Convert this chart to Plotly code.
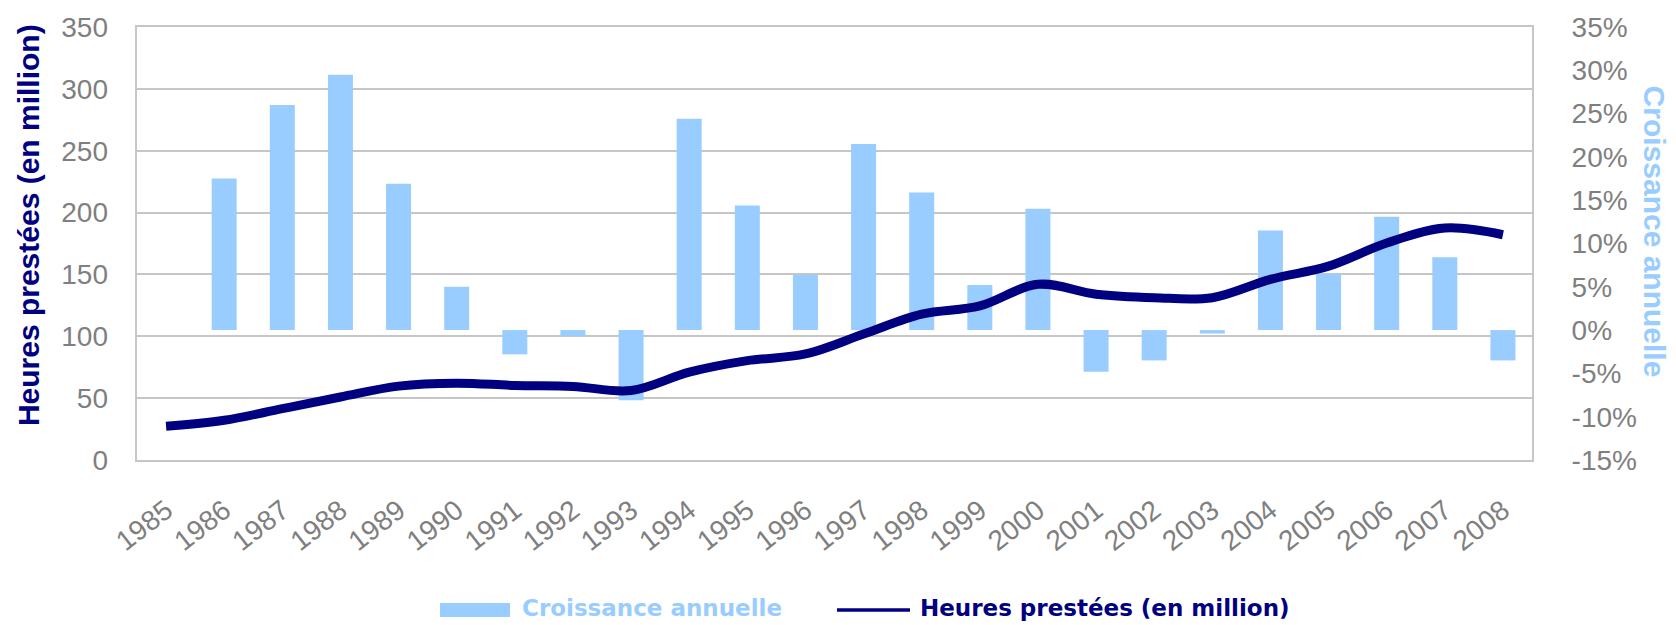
import plotly.graph_objects as go

# ---- data ----
years = [str(y) for y in range(1985, 2009)]
hours = [27.3, 32.1, 41.5, 50.9, 59.7, 62.1, 60.3, 59.5, 56.2, 71.0, 80.3, 85.7,
         101.8, 117.9, 124.5, 142.0, 134.0, 131.2, 131.2, 146.0, 156.7, 175.4, 187.5, 182.1]
growth = [None, 17.5, 26.0, 29.5, 16.9, 5.0, -2.8, -0.7, -8.1, 24.4, 14.4, 6.4,
          21.5, 15.9, 5.2, 14.0, -4.8, -3.5, -0.4, 11.5, 6.5, 13.1, 8.4, -3.5]
hours_ticks = list(range(0, 351, 50))
growth_ticks = list(range(-15, 36, 5))

name_growth = "Croissance annuelle"
name_hours = "Heures prestées (en million)"

BAR = "#99CCFF"
NAVY = "#000080"
GRID = "#C6C6C6"
TICK = "#7F7F7F"

W, H = 1676, 625
L, R, T, B = 137, 144, 24, 165
pw, ph = W - L - R, H - T - B


def px(x):
    return (x - L) / pw


def py(y):
    return (H - B - y) / ph


fig = go.Figure()
fig.add_trace(go.Bar(x=years, y=growth, name=name_growth, marker_color=BAR,
                     marker_line_width=0, width=0.43, yaxis="y", showlegend=False))
fig.add_trace(go.Scatter(x=years, y=hours, name=name_hours, mode="lines",
                         line=dict(color=NAVY, width=9, shape="spline", smoothing=1),
                         yaxis="y2", showlegend=False))

tickfont = dict(family="Liberation Sans, Arial, sans-serif", size=28, color=TICK)

fig.update_layout(
    width=W, height=H, autosize=False,
    margin=dict(l=L, r=R, t=T, b=B, pad=0),
    paper_bgcolor="white", plot_bgcolor="white",
    xaxis=dict(type="category", tickangle=-38, tickfont=tickfont, showgrid=False,
               showline=True, linecolor=GRID, linewidth=2, mirror=True,
               ticks="", ticklabelstandoff=21),
    yaxis=dict(side="right", range=[-15, 35], tickvals=growth_ticks,
               ticktext=[f"{v}%" for v in growth_ticks], tickfont=tickfont,
               showgrid=False, zeroline=False, showline=True, linecolor=GRID,
               linewidth=2, mirror=True, ticks="", ticklabelstandoff=32),
    yaxis2=dict(side="left", overlaying="y", range=[0, 350], tickvals=hours_ticks,
                tickfont=tickfont, showgrid=True, gridcolor=GRID, gridwidth=2,
                zeroline=False, showline=False, ticks="", ticklabelstandoff=28),
    bargap=0.57,
)

# axis titles
fig.add_annotation(text=name_hours, xref="paper", yref="paper", x=px(28.5), y=py(224),
                   textangle=-90, showarrow=False, xanchor="center", yanchor="middle",
                   font=dict(family="Liberation Sans, Arial, sans-serif", size=30,
                             color=NAVY, weight="bold"))
fig.add_annotation(text=name_growth, xref="paper", yref="paper", x=px(1654), y=py(230),
                   textangle=90, showarrow=False, xanchor="center", yanchor="middle",
                   font=dict(family="Liberation Sans, Arial, sans-serif", size=30,
                             color=BAR, weight="bold"))

# legend (bottom)
legfont = dict(family="DejaVu Sans, sans-serif", size=23, weight="bold")
fig.add_shape(type="rect", xref="paper", yref="paper", x0=px(440), x1=px(510),
              y0=py(618), y1=py(604), fillcolor=BAR, line_width=0)
fig.add_annotation(text=name_growth, xref="paper", yref="paper", x=px(521), y=py(609),
                   showarrow=False, xanchor="left", yanchor="middle", borderpad=0,
                   font=dict(color=BAR, **legfont))
fig.add_shape(type="line", xref="paper", yref="paper", x0=px(837), x1=px(910),
              y0=py(611), y1=py(611), line=dict(color=NAVY, width=3.5))
fig.add_annotation(text=name_hours, xref="paper", yref="paper", x=px(919), y=py(609),
                   showarrow=False, xanchor="left", yanchor="middle", borderpad=0,
                   font=dict(color=NAVY, **legfont))

fig.write_html("out.html", config={"displayModeBar": False},
               post_script="document.body.style.margin='0';")
